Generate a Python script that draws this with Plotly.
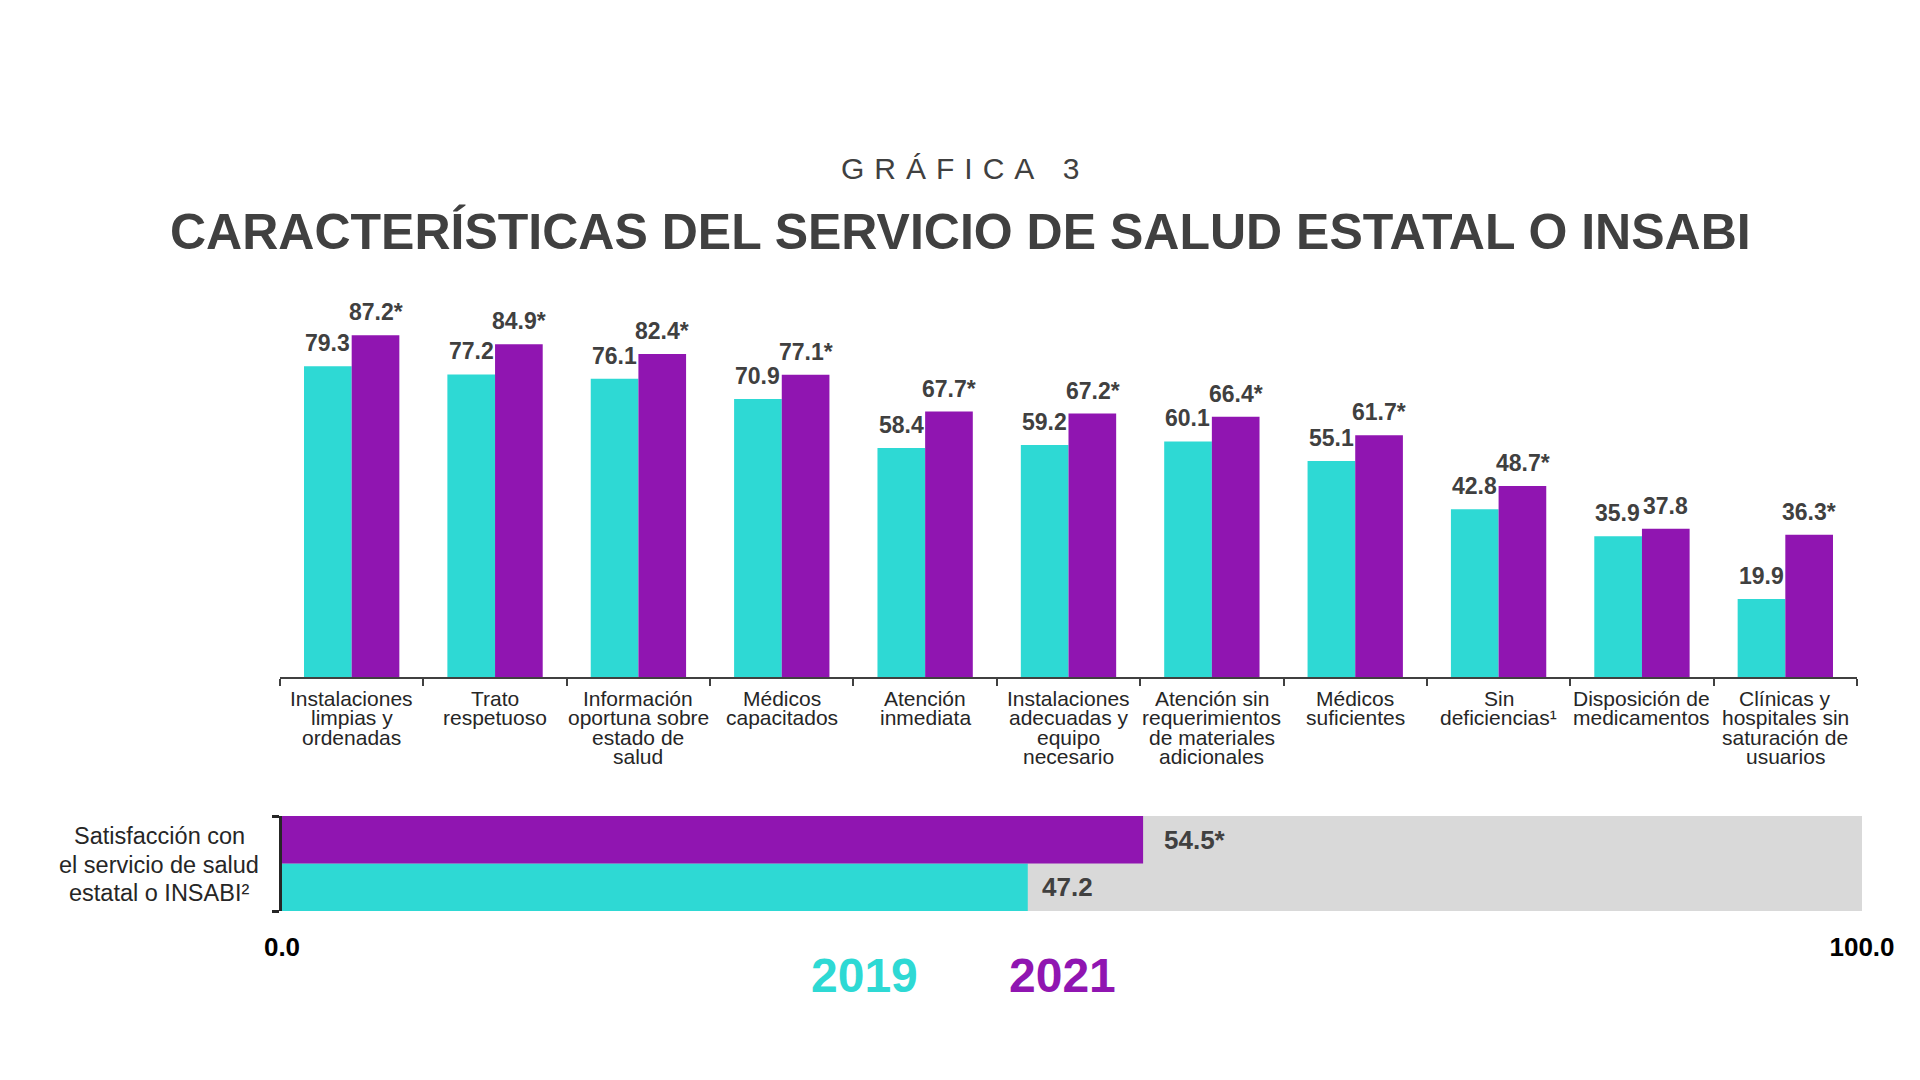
import plotly.graph_objects as go

# ---------------- data ----------------
categories = [
    "Instalaciones\nlimpias y\nordenadas",
    "Trato\nrespetuoso",
    "Información\noportuna sobre\nestado de\nsalud",
    "Médicos\ncapacitados",
    "Atención\ninmediata",
    "Instalaciones\nadecuadas y\nequipo\nnecesario",
    "Atención sin\nrequerimientos\nde materiales\nadicionales",
    "Médicos\nsuficientes",
    "Sin\ndeficiencias¹",
    "Disposición de\nmedicamentos",
    "Clínicas y\nhospitales sin\nsaturación de\nusuarios",
]
values_2019 = [79.3, 77.2, 76.1, 70.9, 58.4, 59.2, 60.1, 55.1, 42.8, 35.9, 19.9]
values_2021 = [87.2, 84.9, 82.4, 77.1, 67.7, 67.2, 66.4, 61.7, 48.7, 37.8, 36.3]
significant_2021 = [True, True, True, True, True, True, True, True, True, False, True]

sat_label = "Satisfacción con\nel servicio de salud\nestatal o INSABI²"
sat_2019 = 47.2
sat_2021 = 54.5
sat_significant_2021 = True

x_tick_vals = [0, 100]
x_tick_text = ["0.0", "100.0"]
years = ["2019", "2021"]

title_small = "GRÁFICA 3"
title_main = "CARACTERÍSTICAS DEL SERVICIO DE SALUD ESTATAL O INSABI"

# ---------------- style ----------------
W, H = 1920, 1080
CYAN = "#2ED9D4"
PURPLE = "#9015B1"
GRAY_BG = "#D9D9D9"
DARK = "#404040"
FONT = "Liberation Sans, Arial, sans-serif"


def py(p):
    return 1 - p / H


def px(p):
    return p / W


def spaced(text):
    # wide letter spacing of the small heading
    return "\u2004".join(text)


cat_keys = [c.replace("\n", " ") for c in categories]

fig = go.Figure()

fig.add_trace(go.Bar(x=cat_keys, y=values_2019, name=years[0], marker=dict(color=CYAN, line=dict(width=0)),
                     xaxis="x", yaxis="y", showlegend=False, hoverinfo="skip"))
fig.add_trace(go.Bar(x=cat_keys, y=values_2021, name=years[1], marker=dict(color=PURPLE, line=dict(width=0)),
                     xaxis="x", yaxis="y", showlegend=False, hoverinfo="skip"))

fig.add_trace(go.Bar(x=[sat_2019], y=[0], orientation="h", width=0.5, offset=-0.5,
                     marker=dict(color=CYAN, line=dict(width=0)), xaxis="x2", yaxis="y2",
                     showlegend=False, hoverinfo="skip"))
fig.add_trace(go.Bar(x=[sat_2021], y=[0], orientation="h", width=0.5, offset=0,
                     marker=dict(color=PURPLE, line=dict(width=0)), xaxis="x2", yaxis="y2",
                     showlegend=False, hoverinfo="skip"))

ann = []
# titles
ann.append(dict(text=spaced(title_small), x=0.5, y=py(168), xref="paper", yref="paper", showarrow=False,
                xanchor="center", yanchor="middle", font=dict(family=FONT, size=30, color=DARK)))
ann.append(dict(text=title_main, x=0.5, y=py(232), xref="paper", yref="paper", showarrow=False,
                xanchor="center", yanchor="middle",
                font=dict(family=FONT, size=50, color=DARK, weight="bold")))

# value labels top chart
for k, v in zip(cat_keys, values_2019):
    ann.append(dict(text=f"{v:.1f}", x=k, y=v, xref="x", yref="y", xshift=-24, yshift=8,
                    showarrow=False, xanchor="center", yanchor="bottom",
                    font=dict(family=FONT, size=23, color=DARK, weight="bold")))
for k, v, s in zip(cat_keys, values_2021, significant_2021):
    ann.append(dict(text=f"{v:.1f}" + ("*" if s else ""), x=k, y=v, xref="x", yref="y", xshift=24, yshift=8,
                    showarrow=False, xanchor="center", yanchor="bottom",
                    font=dict(family=FONT, size=23, color=DARK, weight="bold")))

# category labels (one annotation per line for tight spacing)
for k, c in zip(cat_keys, categories):
    for i, line in enumerate(c.split("\n")):
        ann.append(dict(text=line, x=k, y=py(698 + 19.5 * i), xref="x", yref="paper",
                        showarrow=False, xanchor="center", yanchor="middle",
                        font=dict(family=FONT, size=21, color="#262626")))

# bottom label
for i, line in enumerate(sat_label.split("\n")):
    ann.append(dict(text=line, x=px(159), y=py(836 + 28.5 * i), xref="paper", yref="paper",
                    showarrow=False, xanchor="center", yanchor="middle",
                    font=dict(family=FONT, size=23.5, color="#262626")))

# bottom value labels
ann.append(dict(text=f"{sat_2021:.1f}" + ("*" if sat_significant_2021 else ""), x=sat_2021, y=0.25,
                xref="x2", yref="y2", xshift=19, showarrow=False, xanchor="left", yanchor="middle",
                font=dict(family=FONT, size=26, color=DARK, weight="bold")))
ann.append(dict(text=f"{sat_2019:.1f}", x=sat_2019, y=-0.25,
                xref="x2", yref="y2", xshift=12, showarrow=False, xanchor="left", yanchor="middle",
                font=dict(family=FONT, size=26, color=DARK, weight="bold")))

# legend text
ann.append(dict(text=years[0], x=px(864), y=py(975), xref="paper", yref="paper", showarrow=False,
                xanchor="center", yanchor="middle", font=dict(family=FONT, size=48, color=CYAN, weight="bold")))
ann.append(dict(text=years[1], x=px(1062), y=py(975), xref="paper", yref="paper", showarrow=False,
                xanchor="center", yanchor="middle", font=dict(family=FONT, size=48, color=PURPLE, weight="bold")))

fig.update_layout(
    width=W, height=H, autosize=False,
    margin=dict(l=0, r=0, t=0, b=0, pad=0),
    paper_bgcolor="white", plot_bgcolor="white",
    barmode="group", bargap=0.335, bargroupgap=0,
    font=dict(family=FONT),
    annotations=ann,
    shapes=[dict(type="rect", xref="x2", yref="y2 domain", x0=0, x1=100, y0=0, y1=1,
                 fillcolor=GRAY_BG, line=dict(width=0), layer="below")],
    xaxis=dict(domain=[px(280), px(1857)], anchor="y", type="category", automargin=False,
               showline=True, linecolor=DARK, linewidth=2,
               ticks="outside", tickson="boundaries", ticklen=7, tickwidth=2, tickcolor=DARK,
               showticklabels=False, showgrid=False, zeroline=False, fixedrange=True),
    yaxis=dict(domain=[py(677), py(285)], anchor="x", range=[0, 100], visible=False, automargin=False,
               showgrid=False, zeroline=False, fixedrange=True),
    xaxis2=dict(domain=[px(282), px(1862)], anchor="y2", range=[0, 100], automargin=False,
                showline=False, showgrid=False, zeroline=False, ticks="",
                tickvals=x_tick_vals, ticktext=x_tick_text, ticklabelstandoff=18,
                tickfont=dict(family=FONT, size=26, color="black", weight="bold"), fixedrange=True),
    yaxis2=dict(domain=[py(911), py(816)], anchor="x2", range=[-0.5, 0.5], automargin=False,
                showline=True, linecolor="#262626", linewidth=2.5,
                ticks="outside", ticklen=7, tickwidth=2.5, tickcolor="#262626",
                tickvals=[-0.5, 0.5], showticklabels=False, showgrid=False, zeroline=False,
                fixedrange=True),
)

fig.write_html("out.html", config={"displayModeBar": False})
